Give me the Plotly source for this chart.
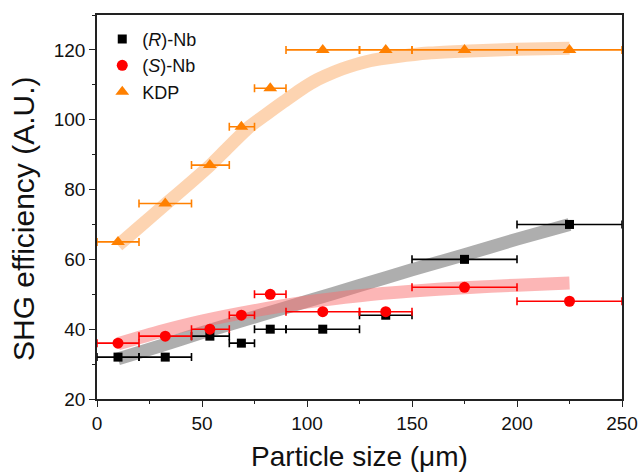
import plotly.graph_objects as go

# Data
size_center = [10, 32.5, 53.75, 68.75, 82.5, 107.5, 137.5, 175, 225]
size_low = [0, 20, 45, 63, 75, 90, 125, 150, 200]
size_high = [20, 45, 63, 75, 90, 125, 150, 200, 250]
r_nb = [32, 32, 38, 36, 40, 40, 44, 60, 70]
s_nb = [36, 38, 40, 44, 50, 45, 45, 52, 48]
kdp = [65, 76, 87, 98, 109, 120, 120, 120, 120]

# Fitted guide curves
fit_kdp_x = [10, 20, 33, 45, 54, 62, 73, 80, 89, 97, 105, 113, 120, 130, 143, 158, 174, 200, 225]
fit_kdp = [64, 69.2, 76, 82.2, 87, 91.8, 98.2, 101.3, 105.2, 108.6, 111.5, 113.7, 115.2, 116.9, 118.1, 119.1, 119.6, 120.2, 120.5]
fit_x = [10, 30, 50, 75, 100, 125, 150, 175, 200, 225]
fit_r = [31.5, 35.2, 39.0, 43.5, 48.0, 52.5, 57.0, 61.3, 65.8, 70.0]
fit_s = [35.8, 39.3, 42.3, 45.3, 47.8, 49.6, 50.9, 51.9, 52.6, 53.2]

err_plus = [h - c for h, c in zip(size_high, size_center)]
err_minus = [c - l for c, l in zip(size_center, size_low)]

fig = go.Figure()

for fxs, fy, col in [(fit_kdp_x, fit_kdp, "rgba(252,170,100,0.5)"),
                     (fit_x, fit_r, "rgba(120,120,120,0.6)"),
                     (fit_x, fit_s, "rgba(250,110,110,0.5)")]:
    fig.add_trace(go.Scatter(x=fxs, y=fy, mode="lines",
                             line=dict(color=col, width=13, shape="spline", smoothing=0.6),
                             showlegend=False, hoverinfo="skip"))

def ex(color):
    return dict(type="data", symmetric=False, array=err_plus, arrayminus=err_minus,
                color=color, thickness=1.6, width=4)

fig.add_trace(go.Scatter(x=size_center, y=r_nb, mode="markers", name="(<i>R</i>)-Nb",
                         marker=dict(symbol="square", size=9, color="black"), error_x=ex("black")))
fig.add_trace(go.Scatter(x=size_center, y=s_nb, mode="markers", name="(<i>S</i>)-Nb",
                         marker=dict(symbol="circle", size=11, color="#ff0000"), error_x=ex("#ff0000")))
fig.add_trace(go.Scatter(x=size_center, y=kdp, mode="markers", name="KDP",
                         marker=dict(symbol="triangle-up", size=12, color="#ff8000"), error_x=ex("#ff8000")))

axis_common = dict(showline=True, linecolor="#222", linewidth=1.5, mirror=True, ticks="outside",
                   ticklen=6, tickwidth=1.2, tickcolor="#222", showgrid=False, zeroline=False,
                   automargin=False, tickfont=dict(size=19, color="#111"))

fig.update_xaxes(range=[0, 250], tickvals=[0, 50, 100, 150, 200, 250],
                 minor=dict(tickvals=[25, 75, 125, 175, 225], ticks="outside", ticklen=3, tickcolor="#222"),
                 title=dict(text="Particle size (μm)", font=dict(size=28, color="#111"), standoff=14),
                 **axis_common)
fig.update_yaxes(range=[20, 130], tickvals=[20, 40, 60, 80, 100, 120],
                 minor=dict(tickvals=[30, 50, 70, 90, 110, 130], ticks="outside", ticklen=3, tickcolor="#222"),
                 **axis_common)

fig.add_annotation(text="SHG efficiency (A.U.)", textangle=-90, xref="paper", yref="paper",
                   x=(23 - 97) / 525, y=(399 - 219) / 384, xanchor="center", yanchor="middle",
                   showarrow=False, font=dict(size=30, color="#111"))

fig.update_layout(
    width=643, height=475,
    margin=dict(l=97, r=21, t=15, b=76),
    paper_bgcolor="white", plot_bgcolor="white",
    font=dict(family="Liberation Sans, Arial, sans-serif", color="#111"),
    legend=dict(x=0.01, y=0.985, xanchor="left", yanchor="top", bgcolor="rgba(0,0,0,0)",
                font=dict(size=18), itemwidth=30, tracegroupgap=0),
)

fig.write_html("out.html")
